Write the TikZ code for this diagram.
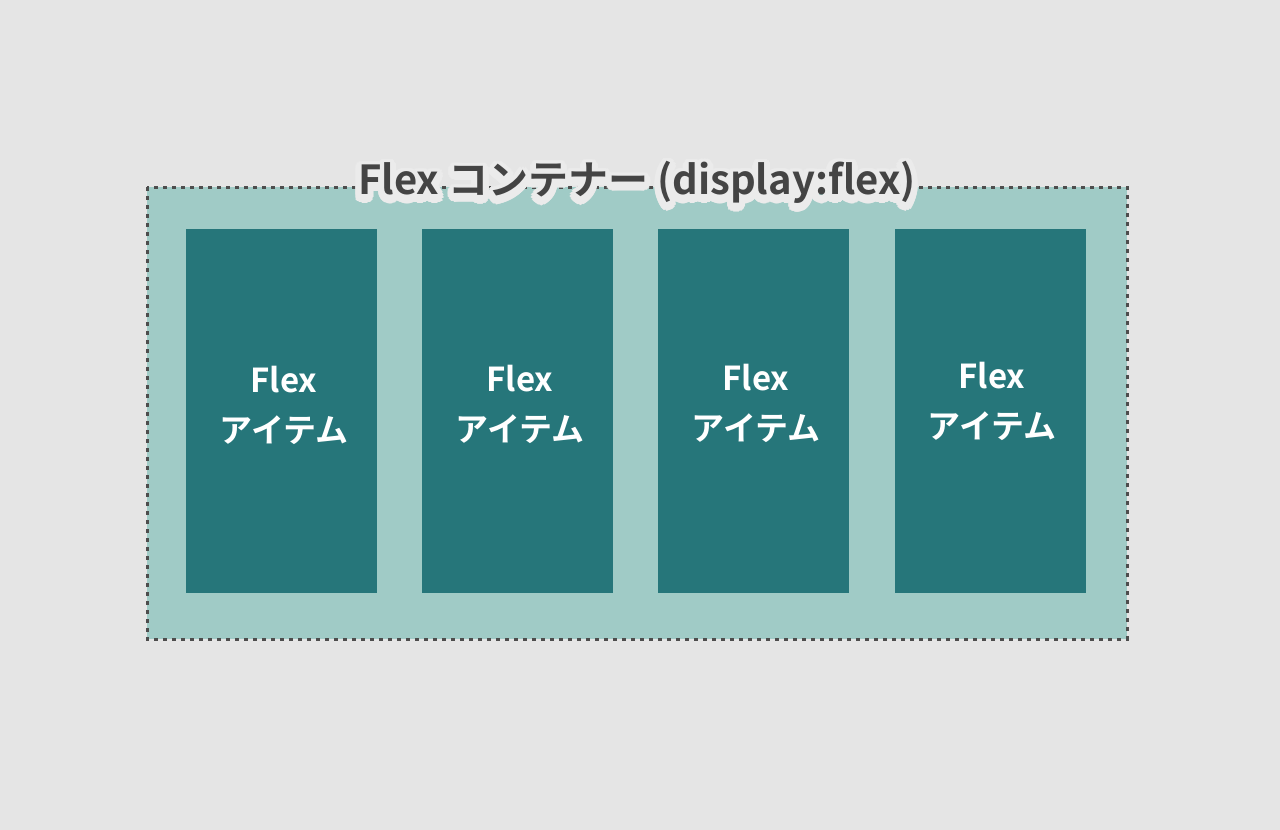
\documentclass[tikz,border=0pt]{standalone}
\usepackage{fontspec}
\usetikzlibrary{calc}
\setmainfont{Noto Sans CJK JP}[BoldFont={* Bold}]
\newfontfamily\jpb{Noto Sans CJK JP Bold}
\definecolor{bgc}{HTML}{E5E5E5}
\definecolor{cont}{HTML}{A0CBC6}
\definecolor{item}{HTML}{26767A}
\definecolor{ink}{HTML}{444444}
\definecolor{halo}{HTML}{EBEBEB}
\tikzset{
  itembox/.style={fill=item, draw=none, minimum width=191pt, minimum height=364pt, inner sep=0pt, anchor=north west},
  itemtext/.style={text=white, font=\jpb\fontsize{33}{50}\selectfont, align=center, inner sep=0pt},
  titletext/.style={text=ink, font=\jpb\fontsize{40}{42}\selectfont, inner sep=0pt},
  halotext/.style={text=halo, font=\jpb\fontsize{40}{42}\selectfont, inner sep=0pt},
}
\begin{document}
\begin{tikzpicture}[x=1pt,y=-1pt]
\fill[bgc] (0,0) rectangle (1280,830);
\useasboundingbox (0,0) rectangle (1280,830);
\fill[cont] (147,187) rectangle (1127,639);
\draw[ink!95, line width=3pt, dash pattern=on 4pt off 5pt] (147,187) rectangle (1127,639);
\node[itembox] (i1) at (186,229) {};
\node[itembox] (i2) at (422,229) {};
\node[itembox] (i3) at (658,229) {};
\node[itembox] (i4) at (895,229) {};
\node[itemtext] (t1) at (284,405) {Flex\\アイテム};
\node[itemtext] (t2) at (520,404) {Flex\\アイテム};
\node[itemtext] (t3) at (756,403) {Flex\\アイテム};
\node[itemtext] (t4) at (992,401) {Flex\\アイテム};
\foreach \a in {0,15,...,345}{
  \node[halotext] at ($(637,185)+(\a:6)$) {Flex コンテナー (display:flex)};
}
\node[halotext] (halo) at (637,190) {Flex コンテナー (display:flex)};
\node[titletext] (title) at (637,182) {Flex コンテナー (display:flex)};
\end{tikzpicture}
\end{document}
